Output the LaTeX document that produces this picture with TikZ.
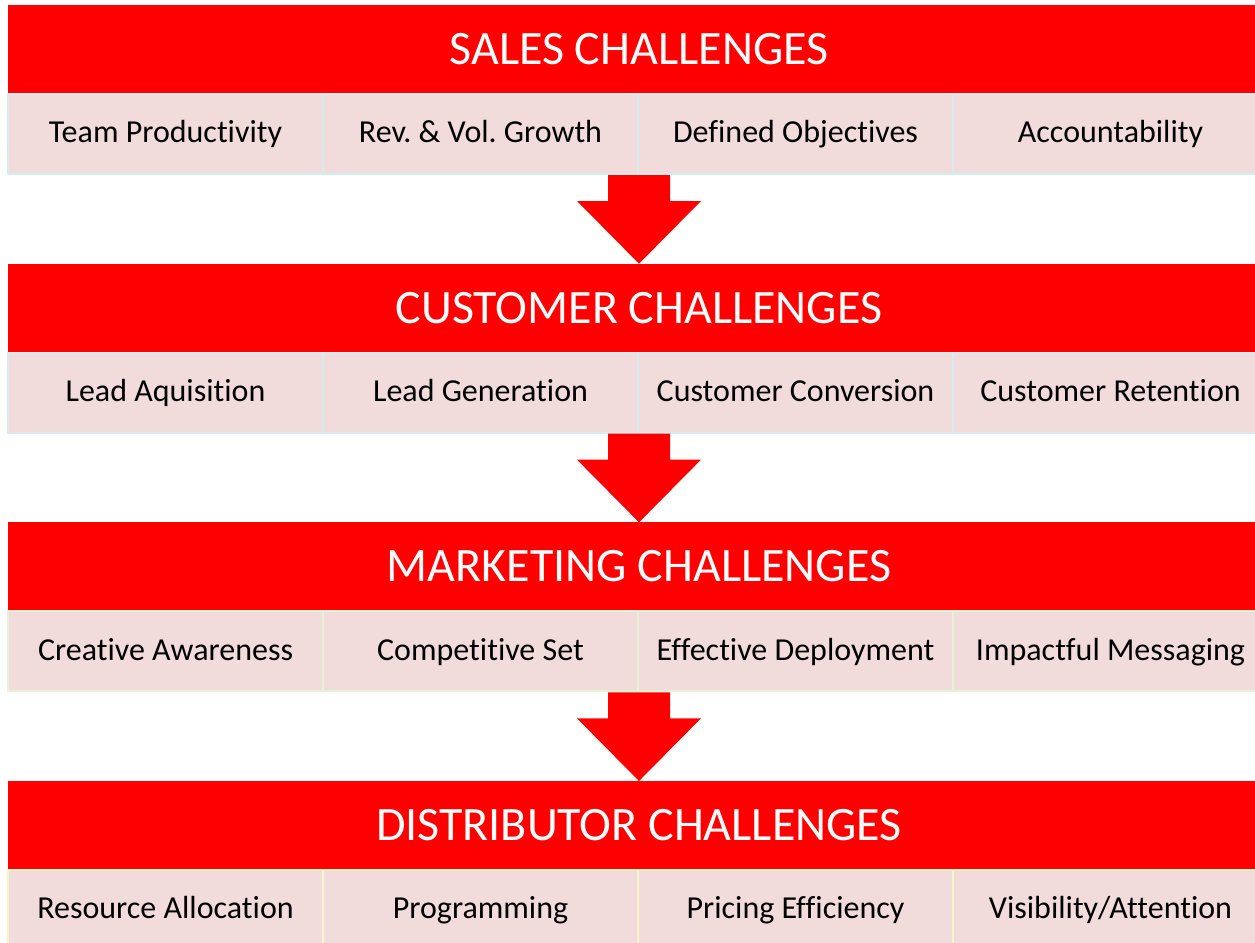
\documentclass[tikz,border=0pt]{standalone}
\usepackage{fontspec}
\setmainfont{Carlito}[Ligatures=NoCommon]
\usetikzlibrary{calc}
\definecolor{barred}{HTML}{FF0000}
\definecolor{cellpink}{HTML}{F2DCDB}
\definecolor{rowcyan}{HTML}{D5ECF0}
\definecolor{rowgreen}{HTML}{E4F3D6}
\definecolor{rowyellow}{HTML}{F7F5C8}
\tikzset{
  head/.style={fill=barred, text=white, minimum width=946.5pt, minimum height=66pt,
    inner sep=0pt, outer sep=0pt, text height=23.2pt, text depth=0pt,
    font=\fontsize{36}{40}\selectfont},
  cell/.style={fill=cellpink, line width=1.5pt, minimum width=236.25pt, minimum height=60pt,
    inner sep=0pt, outer sep=0pt, text height=18pt, text depth=4.7pt,
    font=\fontsize{24}{28}\selectfont},
  arrowred/.style={fill=barred}
}
\begin{document}
\begin{tikzpicture}[x=0.75pt, y=-0.75pt]
	\def\w{315}
	\def\dy{258.67}
	\useasboundingbox (0,0) rectangle (1255,942);
	\clip (0,0) rectangle (1255,942);
	% headers
	\foreach \t [count=\i from 0] in {SALES, CUSTOMER, MARKETING, DISTRIBUTOR}
		\node[head] (h\i) at (639,49+\i*\dy) {\t\ CHALLENGES};
	% cells
	\foreach \a/\b/\c/\d/\col [count=\i from 0] in {
		Team Productivity/Rev.\ \& Vol.\ Growth/Defined Objectives/Accountability/rowcyan,
		Lead Aquisition/Lead Generation/Customer Conversion/Customer Retention/rowcyan,
		Creative Awareness/Competitive Set/Effective Deployment/Impactful Messaging/rowgreen,
		Resource Allocation/Programming/Pricing Efficiency/{Visibility/Attention}/rowyellow}
		\foreach \t [count=\j from 0] in {\a,\b,\c,\d}
			\node[cell, draw=\col] (c\i\j) at (8+\w/2+\j*\w,134+\i*\dy) {\t};
	% arrows
	\foreach \i [evaluate=\i as \j using int(\i+1)] in {0,1,2}{
		\coordinate (a\i) at (h\i |- c\i0.south);
		\fill[arrowred] ($(a\i)+(-31,1)$) -- ++(0,26) -- ++(-31,0) -- (h\j.north)
			-- ($(a\i)+(62,27)$) -- ++(-31,0) -- ++(0,-26) -- cycle;
	}
\end{tikzpicture}
\end{document}
